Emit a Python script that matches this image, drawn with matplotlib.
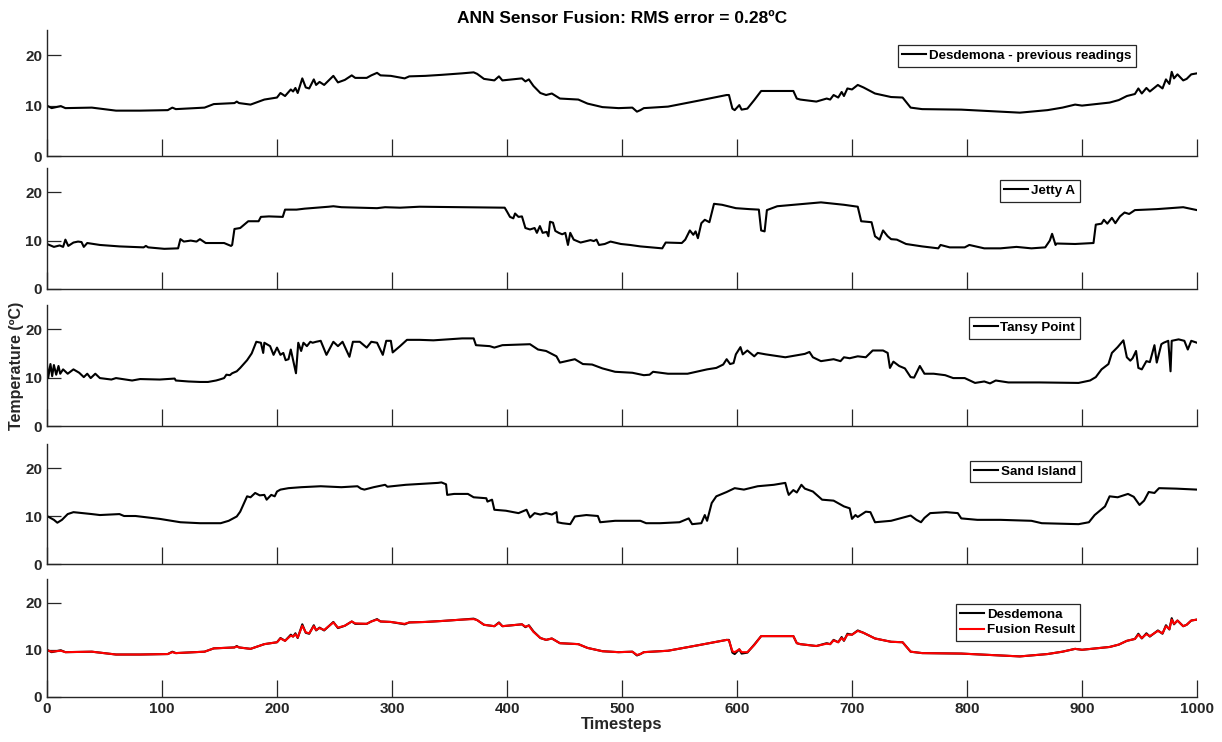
import matplotlib
matplotlib.use("Agg")
import matplotlib.pyplot as plt

plt.rcParams['font.family'] = ['Liberation Sans', 'DejaVu Sans']
plt.rcParams['font.weight'] = 'bold'

# Desdemona - previous readings (timestep, degC)
desd_x = [0, 4, 12, 16, 39, 60, 81, 105, 109, 112, 137, 145, 163, 165, 167, 177, 189, 200, 203, 207,
          212, 214, 216, 218, 222, 225, 228, 232, 234, 237, 241, 249, 253, 259, 265, 268, 278, 282, 287, 290,
          299, 311, 315, 329, 343, 361, 371, 374, 380, 389, 393, 396, 413, 416, 419, 423, 429, 434, 439, 446,
          462, 470, 483, 497, 509, 513, 516, 519, 540, 567, 591, 593, 596, 598, 602, 604, 609, 615, 621, 632,
          649, 652, 655, 669, 678, 681, 684, 688, 691, 693, 696, 700, 705, 710, 720, 734, 744, 751, 761, 795,
          829, 846, 870, 883, 894, 900, 924, 932, 939, 946, 949, 952, 956, 959, 966, 970, 973, 976, 978, 980,
          983, 988, 991, 995, 1000]
desd_y = [10.0, 9.5, 9.9, 9.5, 9.6, 9.0, 9.0, 9.1, 9.6, 9.3, 9.6, 10.3, 10.5, 10.8, 10.5, 10.2, 11.2, 11.6, 12.5, 11.9,
          13.2, 12.8, 13.5, 12.5, 15.4, 13.6, 13.4, 15.2, 14.1, 14.7, 14.1, 15.9, 14.6, 15.1, 16.0, 15.5, 15.5, 16.0, 16.5, 16.0,
          15.9, 15.4, 15.8, 15.9, 16.1, 16.4, 16.6, 16.3, 15.3, 15.0, 15.8, 15.0, 15.4, 14.8, 15.2, 13.9, 12.5, 12.1, 12.4, 11.4,
          11.2, 10.4, 9.7, 9.5, 9.6, 8.8, 9.1, 9.5, 9.8, 11.0, 12.1, 12.1, 9.4, 9.1, 10.1, 9.2, 9.4, 11.1, 12.9, 12.9,
          12.9, 11.4, 11.2, 10.8, 11.4, 11.2, 12.1, 11.6, 12.7, 11.9, 13.4, 13.2, 14.1, 13.6, 12.4, 11.7, 11.6, 9.6, 9.3, 9.2,
          8.8, 8.6, 9.1, 9.6, 10.2, 10.0, 10.6, 11.1, 11.9, 12.3, 13.4, 12.4, 13.5, 12.8, 14.1, 13.4, 15.2, 14.3, 16.7, 15.4,
          16.2, 15.0, 15.3, 16.2, 16.4]

# Fusion result (red), tracks Desdemona with slightly softer spikes
fusion_x = desd_x
fusion_y = [9.9, 9.6, 9.8, 9.5, 9.6, 9.0, 9.0, 9.1, 9.5, 9.3, 9.6, 10.3, 10.5, 10.7, 10.5, 10.2, 11.2, 11.6, 12.4, 11.9,
            13.0, 12.8, 13.3, 12.6, 15.1, 13.7, 13.5, 15.0, 14.2, 14.6, 14.2, 15.8, 14.7, 15.1, 16.0, 15.6, 15.5, 16.0, 16.4, 16.0,
            15.9, 15.5, 15.8, 15.9, 16.1, 16.4, 16.5, 16.3, 15.3, 15.0, 15.7, 15.0, 15.4, 14.9, 15.1, 13.8, 12.5, 12.1, 12.4, 11.4,
            11.2, 10.4, 9.7, 9.5, 9.6, 8.9, 9.1, 9.5, 9.8, 11.0, 12.1, 12.0, 9.7, 9.5, 10.1, 9.5, 9.5, 11.0, 12.9, 12.9,
            12.9, 11.4, 11.2, 10.8, 11.3, 11.2, 12.0, 11.6, 12.5, 12.0, 13.2, 13.2, 14.0, 13.6, 12.4, 11.7, 11.6, 9.6, 9.3, 9.2,
            8.8, 8.6, 9.1, 9.6, 10.2, 10.0, 10.6, 11.1, 11.9, 12.3, 13.2, 12.5, 13.3, 12.9, 14.0, 13.5, 15.0, 14.4, 16.4, 15.5,
            16.2, 15.0, 15.3, 16.2, 16.4]

jetty_x = [0, 6, 11, 14, 16, 18.5, 23, 27, 30, 32, 35, 46, 63, 84, 86, 88, 102, 112, 114, 116,
           119, 125, 130, 133, 138, 154, 160, 161, 163, 168, 175, 184, 186, 193, 205, 207, 217, 224, 245, 249,
           256, 287, 294, 307, 324, 365, 398, 400, 402.6, 405.5, 407, 410, 413, 416, 420, 424, 426, 428.6, 431, 434.5,
           436, 437.4, 440, 442, 445, 448, 450.7, 453, 455, 458, 464, 472.6, 475.5, 477.8, 480, 485, 490, 499, 507, 516,
           535, 538, 552, 555, 559, 562, 564, 566, 569, 572, 576, 580, 587, 599, 611, 619, 621, 624, 626, 635,
           659, 673, 693, 705, 708, 717, 720, 724, 727, 731, 734, 739, 747, 761, 775, 777, 785, 798, 802, 815,
           829, 843, 856, 868, 872, 874, 877, 878, 894, 910, 912, 917, 919, 922, 926, 929, 933, 937, 941, 946,
           965, 988, 994, 1000]
jetty_y = [9.3, 8.7, 9.0, 8.7, 10.2, 8.9, 9.6, 9.8, 9.7, 8.7, 9.5, 9.1, 8.8, 8.6, 8.9, 8.6, 8.3, 8.4, 8.4, 10.3,
           9.8, 10.0, 9.8, 10.3, 9.5, 9.5, 8.9, 9.1, 12.4, 12.6, 14.0, 14.0, 14.9, 15.0, 14.9, 16.4, 16.4, 16.6, 17.0, 17.1,
           16.9, 16.7, 16.9, 16.8, 17.0, 16.9, 16.8, 16.0, 14.9, 14.6, 15.6, 14.9, 15.0, 12.6, 12.3, 12.6, 11.6, 13.0, 11.6, 11.8,
           10.9, 13.9, 13.7, 12.0, 11.6, 11.3, 11.6, 9.1, 11.6, 10.2, 9.6, 10.1, 9.9, 10.2, 9.1, 9.3, 9.8, 9.3, 9.1, 8.8,
           8.4, 9.6, 9.5, 10.2, 12.1, 11.2, 11.9, 10.5, 13.6, 14.3, 13.8, 17.6, 17.4, 16.7, 16.5, 16.4, 12.1, 11.9, 16.3, 17.1,
           17.6, 17.9, 17.4, 17.0, 14.0, 13.8, 10.9, 10.2, 12.1, 10.9, 10.3, 10.2, 9.3, 8.8, 8.4, 9.1, 8.6, 8.6, 9.1, 8.4,
           8.4, 8.7, 8.4, 8.6, 10.0, 11.4, 9.1, 9.4, 9.3, 9.5, 13.3, 13.5, 14.3, 13.5, 14.7, 13.6, 15.0, 15.8, 15.5, 16.3,
           16.5, 16.9, 16.6, 16.3]

tansy_x = [0, 1, 3, 4.5, 6, 8, 10, 11.5, 14, 18, 23, 28, 32, 35, 38, 42, 46, 56, 60, 74,
           81, 98, 111, 112, 123, 133, 140, 147, 150, 154, 156, 159, 161, 165, 168, 174, 178, 182, 186, 188,
           189, 194, 197, 200, 203, 205.5, 207.5, 210, 212, 214, 216.5, 218.5, 221, 223, 226, 229, 231, 234, 238, 243,
           249, 253, 257, 263, 266, 272, 278, 282, 287, 292, 295, 299, 300.6, 307, 313, 324, 336, 361, 371, 373,
           385, 389, 396, 420, 427, 434, 443, 446, 459, 466, 474, 483, 494, 509, 519, 524, 527, 540, 557, 574,
           582, 588, 591, 594, 597, 599, 603, 605, 609, 615, 618, 625, 642, 659, 663, 666, 673, 684, 690, 693,
           698, 705, 712, 718, 727, 731, 733, 736, 741, 746, 751, 754, 759, 763, 771, 781, 788, 798, 807, 815,
           820, 825, 836, 863, 897, 907, 912, 917, 923, 926, 931, 936, 939, 942, 944, 947, 949, 952, 956, 959,
           963, 965, 969, 971, 975, 977, 978, 984, 989, 992, 995, 1000]
tansy_y = [12.7, 9.9, 12.8, 10.3, 12.6, 10.6, 12.4, 10.8, 11.7, 10.8, 11.7, 11.0, 10.1, 10.8, 9.9, 10.8, 9.9, 9.6, 9.9, 9.4,
           9.7, 9.6, 9.8, 9.4, 9.2, 9.1, 9.1, 9.4, 9.6, 9.9, 10.6, 10.5, 10.9, 11.3, 12.0, 13.6, 15.0, 17.4, 17.2, 15.1,
           17.2, 16.5, 14.7, 16.2, 14.7, 15.1, 13.6, 13.8, 15.8, 13.6, 10.9, 17.2, 15.5, 17.2, 16.5, 17.4, 17.2, 17.4, 17.6, 14.7,
           17.4, 16.5, 17.4, 14.3, 17.4, 17.4, 16.2, 17.4, 17.2, 14.7, 17.6, 17.6, 15.2, 16.5, 17.8, 17.8, 17.7, 18.1, 18.1, 16.7,
           16.5, 16.2, 16.7, 16.9, 15.8, 15.5, 14.4, 13.1, 13.8, 12.8, 12.7, 11.9, 11.2, 11.0, 10.5, 10.6, 11.2, 10.8, 10.8, 11.7,
           12.0, 12.7, 13.8, 12.8, 13.0, 14.8, 16.3, 14.8, 15.6, 14.4, 15.1, 14.8, 14.2, 14.9, 15.3, 14.2, 13.4, 13.8, 13.4, 14.2,
           14.0, 14.4, 14.2, 15.6, 15.6, 15.1, 12.0, 13.3, 12.4, 11.9, 10.1, 10.0, 12.4, 10.8, 10.8, 10.5, 9.9, 9.9, 8.9, 9.2,
           8.8, 9.4, 9.0, 9.0, 8.9, 9.4, 10.1, 11.7, 12.8, 15.1, 16.3, 17.7, 14.2, 13.5, 14.0, 15.5, 12.0, 11.7, 13.4, 13.2,
           16.7, 13.1, 16.9, 17.2, 17.6, 11.3, 17.6, 17.9, 17.6, 15.8, 17.6, 17.2]

sand_x = [0, 6, 9, 13, 18, 23, 39, 46, 63, 67, 77, 98, 116, 133, 151, 158, 165, 168, 174, 177,
          181, 185, 189, 191, 195, 198, 200, 203, 210, 221, 238, 256, 270, 273, 276, 284, 294, 296, 312, 326,
          340, 343, 347, 348, 354, 366, 371, 382, 383, 387, 389, 399, 410, 413, 417, 420, 424, 429, 434, 439,
          443, 444, 448, 455, 459, 469, 479, 481, 494, 516, 521, 533, 550, 558, 561, 569, 572, 574, 578, 582,
          591, 598, 606, 618, 632, 642, 644, 645, 649, 652, 656, 659, 666, 674, 684, 693, 698, 700, 703, 705,
          712, 716, 720, 734, 751, 756, 760, 763, 768, 782, 792, 795, 809, 829, 856, 865, 897, 906, 911, 920,
          924, 931, 940, 945, 950, 954, 958, 963, 967, 982, 1000]
sand_y = [10.0, 9.2, 8.6, 9.2, 10.4, 10.8, 10.4, 10.2, 10.4, 10.0, 10.0, 9.4, 8.7, 8.5, 8.5, 9.0, 9.9, 10.9, 14.1, 13.9,
          14.8, 14.3, 14.4, 13.4, 14.4, 14.1, 15.1, 15.5, 15.8, 16.0, 16.2, 16.0, 16.2, 15.7, 15.5, 16.0, 16.5, 16.1, 16.5, 16.7,
          16.9, 17.0, 16.6, 14.4, 14.6, 14.6, 13.9, 13.7, 13.0, 13.4, 11.3, 11.1, 10.6, 10.9, 11.3, 9.7, 10.6, 10.3, 10.6, 10.3,
          10.8, 8.7, 8.5, 8.3, 9.9, 10.2, 10.0, 8.7, 9.0, 9.0, 8.5, 8.5, 8.7, 9.5, 8.3, 8.5, 10.2, 9.0, 12.7, 14.1,
          15.0, 15.8, 15.5, 16.2, 16.5, 16.9, 15.1, 14.4, 15.4, 14.9, 16.5, 15.7, 15.1, 13.4, 13.2, 12.0, 11.6, 9.4, 10.2, 9.8,
          10.9, 10.8, 8.7, 9.0, 10.1, 9.2, 8.7, 9.6, 10.6, 10.8, 10.6, 9.5, 9.2, 9.2, 9.0, 8.5, 8.3, 8.7, 10.2, 12.0,
          14.1, 13.9, 14.6, 14.0, 12.3, 13.2, 15.0, 14.8, 15.8, 15.7, 15.5]

panel_names = ['Desdemona - previous readings', 'Jetty A', 'Tansy Point', 'Sand Island']
xticks = [0, 100, 200, 300, 400, 500, 600, 700, 800, 900, 1000]
yticks = [0, 10, 20]

W, H = 1222, 742
fig = plt.figure(figsize=(W / 100, H / 100), dpi=100)

# panel extents in pixels (top, bottom) and legend anchors (axes coords)
tops = [30, 168, 305, 444, 579]
bots = [156, 289, 426, 564, 697]
leg_anchor = [(0.947, 0.88), (0.898, 0.90), (0.898, 0.90), (0.899, 0.86), (0.898, 0.79)]
left, right = 47, 1197
grey = '#262626'

axes = []
for i in range(5):
    ax = fig.add_axes([left / W, 1 - bots[i] / H, (right - left) / W, (bots[i] - tops[i]) / H])
    axes.append(ax)

series = [(desd_x, desd_y), (jetty_x, jetty_y), (tansy_x, tansy_y), (sand_x, sand_y)]
for ax, (sx, sy), name in zip(axes[:4], series, panel_names):
    ax.plot(sx, sy, color='k', lw=1.5, label=name)

axes[4].plot(desd_x, desd_y, color='k', lw=1.5, label='Desdemona')
axes[4].plot(fusion_x, fusion_y, color='#ff0000', lw=1.5, label='Fusion Result')

for i, ax in enumerate(axes):
    ax.set_xlim(0, 1000)
    ax.set_ylim(0, 25)
    ax.set_xticks(xticks)
    ax.set_yticks(yticks)
    ax.spines['top'].set_visible(False)
    ax.spines['right'].set_visible(False)
    for s in ['left', 'bottom']:
        ax.spines[s].set_color(grey)
        ax.spines[s].set_linewidth(1.0)
    ax.tick_params(direction='in', length=10, width=0.9, color=grey, labelcolor=grey, labelsize=11)
    ax.tick_params(axis='x', length=12)
    for lab in ax.get_xticklabels() + ax.get_yticklabels():
        lab.set_fontweight('bold')
    if i < 4:
        ax.set_xticklabels([])
    leg = ax.legend(loc='upper right', bbox_to_anchor=leg_anchor[i], fancybox=False, framealpha=1,
                    edgecolor=grey, handlelength=1.8, handletextpad=0.2,
                    borderpad=0.35, borderaxespad=0, labelspacing=0.25,
                    prop={'weight': 'bold', 'size': 9.6})
    leg.get_frame().set_linewidth(0.9)

axes[0].set_title('ANN Sensor Fusion: RMS error = 0.28ºC', fontsize=12.5, fontweight='bold', pad=5)
axes[2].set_ylabel('Temperature (ºC)', fontsize=11.5, fontweight='bold', color=grey, labelpad=1)
axes[4].set_xlabel('Timesteps', fontsize=12, fontweight='bold', color=grey, labelpad=1)

fig.savefig('out.png', dpi=100)
